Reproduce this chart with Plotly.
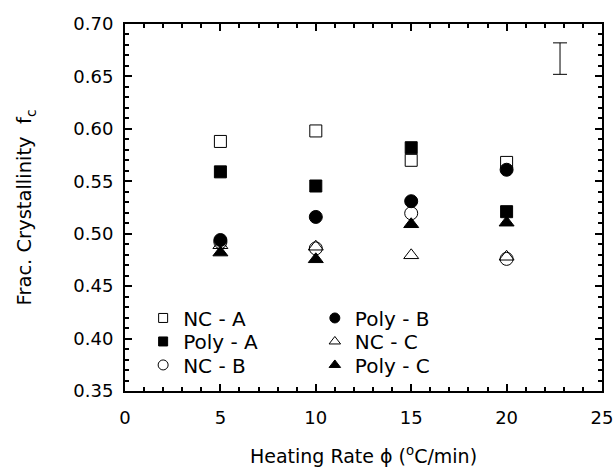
import plotly.graph_objects as go

rates = [5, 10, 15, 20]
nc_a = [0.588, 0.598, 0.570, 0.568]
poly_a = [0.559, 0.5455, 0.582, 0.521]
nc_b = [0.492, 0.486, 0.5195, 0.476]
poly_b = [0.494, 0.516, 0.531, 0.561]
nc_c = [0.489, 0.4876, 0.4794, 0.478]
poly_c = [0.482, 0.4756, 0.509, 0.5105]

err_x = [22.8]
err_y = [0.667]
err_half = [0.015]

FONT = "DejaVu Sans, Arial, sans-serif"

# name, values, symbol, plot size, legend size, legend id, legend x, legend y
series = [
    ("NC - A", nc_a, "square-open", 12, 9, "legend", 0.038, 0.199),
    ("Poly - A", poly_a, "square", 12, 9, "legend2", 0.038, 0.135),
    ("NC - B", nc_b, "circle-open", 13, 10, "legend3", 0.038, 0.071),
    ("Poly - B", poly_b, "circle", 13, 10, "legend4", 0.398, 0.199),
    ("NC - C", nc_c, "triangle-up-open", 13, 10, "legend5", 0.398, 0.135),
    ("Poly - C", poly_c, "triangle-up", 13, 10, "legend6", 0.398, 0.071),
]

fig = go.Figure()
for name, vals, sym, sz, lsz, lg, lx, ly in series:
    fig.add_trace(go.Scatter(
        x=rates, y=vals, mode="markers", name=name, showlegend=False,
        marker=dict(symbol=sym, size=sz, color="black",
                    line=dict(color="black", width=1)),
    ))

# legend entries (drawn only in the legend, smaller symbols as in the reference)
for name, vals, sym, sz, lsz, lg, lx, ly in series:
    fig.add_trace(go.Scatter(
        x=[None], y=[None], mode="markers", name=name, legend=lg, showlegend=True,
        marker=dict(symbol=sym, size=lsz, color="black",
                    line=dict(color="black", width=1)),
    ))

fig.add_trace(go.Scatter(
    x=err_x, y=err_y, mode="markers", showlegend=False,
    marker=dict(size=1, color="rgba(0,0,0,0)"),
    error_y=dict(type="data", array=err_half, color="black", thickness=1, width=7),
))

axis_common = dict(
    showline=True, linecolor="black", linewidth=2, mirror="allticks",
    ticks="inside", ticklen=7, tickwidth=1.5, tickcolor="black",
    showgrid=False, zeroline=False, automargin=False,
    ticklabeloverflow="allow",
    tickfont=dict(family=FONT, size=18, color="black"),
)

fig.update_xaxes(
    range=[0, 25], tick0=0, dtick=5,
    minor=dict(dtick=1, ticks="inside", ticklen=4, tickwidth=1.5, tickcolor="black", showgrid=False),
    title=dict(text="Heating Rate ϕ (<sup>o</sup>C/min)", font=dict(family=FONT, size=19, color="black"), standoff=29),
    ticklabelstandoff=9,
    **axis_common,
)
fig.update_yaxes(
    range=[0.35, 0.70], tick0=0.35, dtick=0.05, tickformat=".2f",
    minor=dict(dtick=0.01, ticks="inside", ticklen=4, tickwidth=1.5, tickcolor="black", showgrid=False),
    title=dict(text="Frac. Crystallinity  f<sub>c</sub>", font=dict(family=FONT, size=19.5, color="black"), standoff=36),
    ticklabelstandoff=6,
    **axis_common,
)

layout_legends = {}
for name, vals, sym, sz, lsz, lg, lx, ly in series:
    layout_legends[lg] = dict(
        x=lx, y=ly, xanchor="left", yanchor="middle",
        font=dict(family=FONT, size=20, color="black"),
        bgcolor="rgba(0,0,0,0)", borderwidth=0,
    )

fig.update_layout(
    width=613, height=467,
    margin=dict(l=125, r=11, t=24, b=76),
    paper_bgcolor="white", plot_bgcolor="white",
    font=dict(family=FONT, color="black"),
    **layout_legends,
)

fig.write_html("out.html")
